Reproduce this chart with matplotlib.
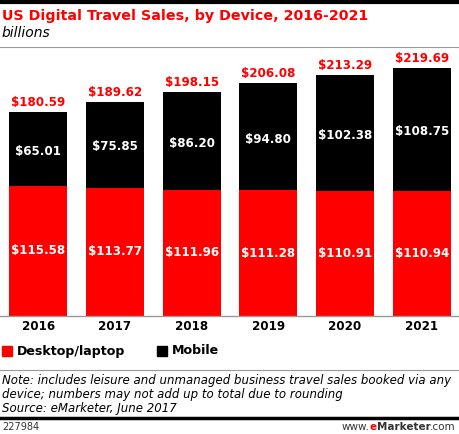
import matplotlib.pyplot as plt
import numpy as np

years = ["2016", "2017", "2018", "2019", "2020", "2021"]
desktop = [115.58, 113.77, 111.96, 111.28, 110.91, 110.94]
mobile = [65.01, 75.85, 86.20, 94.80, 102.38, 108.75]
totals = [180.59, 189.62, 198.15, 206.08, 213.29, 219.69]

W, H = 460, 434
fig = plt.figure(figsize=(W / 100, H / 100), dpi=100)

def fy(py):
    # pixel y (from top) -> figure fraction
    return 1 - py / H

def fx(px):
    return px / W

ax = fig.add_axes([0, fy(316), 1, (316 - 50) / H])
x = np.arange(len(years))
ax.bar(x, desktop, width=0.757, color="#ff0000", edgecolor="none")
ax.bar(x, mobile, bottom=desktop, width=0.757, color="#000000", edgecolor="none")
ax.set_xlim(-0.5, 5.5)
ax.set_ylim(0, 266 / 1.129)
ax.axis("off")

for i in range(len(years)):
    ax.text(x[i], desktop[i] / 2, f"${desktop[i]:.2f}", color="white",
            fontweight="bold", fontsize=8.6, ha="center", va="center")
    ax.text(x[i], desktop[i] + mobile[i] / 2 - 2, f"${mobile[i]:.2f}", color="white",
            fontweight="bold", fontsize=8.6, ha="center", va="center")
    ax.text(x[i], totals[i] + 3, f"${totals[i]:.2f}", color="#ff0000",
            fontweight="bold", fontsize=8.6, ha="center", va="bottom")
    ax.text(x[i], -3.5, years[i], color="black", fontweight="bold",
            fontsize=8.6, ha="center", va="top")

# lines
fig.add_artist(plt.Line2D([0, 1], [fy(2), fy(2)], color="black", lw=3))
fig.add_artist(plt.Line2D([0, 1], [fy(47), fy(47)], color="#999999", lw=0.8))
fig.add_artist(plt.Line2D([0, 1], [fy(316), fy(316)], color="#999999", lw=1))
fig.add_artist(plt.Line2D([0, 1], [fy(370), fy(370)], color="#999999", lw=0.8))
fig.add_artist(plt.Line2D([0, 1], [fy(418), fy(418)], color="black", lw=2.5))

fig.text(fx(2), fy(16), "US Digital Travel Sales, by Device, 2016-2021", color="#ff0000",
         fontweight="bold", fontsize=10.3, va="center", ha="left")
fig.text(fx(2), fy(33), "billions", style="italic", fontsize=10, va="center", ha="left")

# legend
fig.patches.append(plt.Rectangle((fx(2), fy(356)), 10 / W, 10 / H, color="#ff0000",
                                 transform=fig.transFigure, figure=fig))
fig.text(fx(17), fy(351), "Desktop/laptop", fontweight="bold", fontsize=9.1, va="center")
fig.patches.append(plt.Rectangle((fx(157), fy(356)), 10 / W, 10 / H, color="#000000",
                                 transform=fig.transFigure, figure=fig))
fig.text(fx(172), fy(351), "Mobile", fontweight="bold", fontsize=9.1, va="center")

note = ("Note: includes leisure and unmanaged business travel sales booked via any\n"
        "device; numbers may not add up to total due to rounding\n"
        "Source: eMarketer, June 2017")
fig.text(fx(2), fy(374), note, style="italic", fontsize=8.5, va="top", ha="left",
         linespacing=1.1)

fig.text(fx(2), fy(427), "227984", fontsize=7, va="center", ha="left", color="#333333")

# www.eMarketer.com, built right to left
r = fig.canvas.get_renderer()
right = 456
parts = [(".com", "normal", "#333333"), ("Marketer", "bold", "#333333"),
         ("e", "bold", "#ff0000"), ("www.", "normal", "#333333")]
for s, w, c in parts:
    t = fig.text(right / W, fy(427), s, fontsize=7.5, fontweight=w, color=c,
                 va="center", ha="right")
    right = t.get_window_extent(r).x0

fig.savefig("out.png", dpi=100)
